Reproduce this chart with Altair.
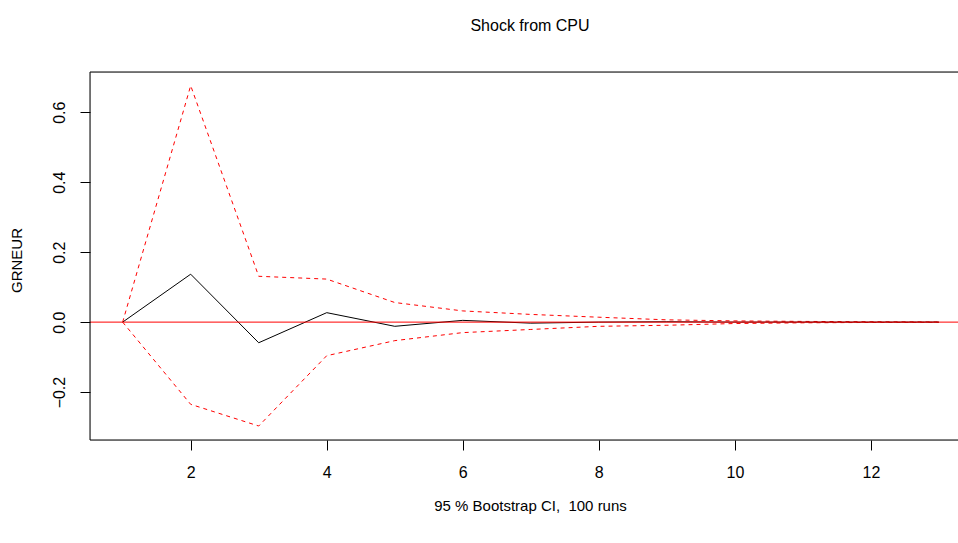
import altair as alt
import pandas as pd

horizon = list(range(1, 14))
irf = [0.0, 0.137, -0.059, 0.027, -0.012, 0.005, -0.003, 0.0, 0.001, 0.0, 0.0, 0.0, 0.0]
upper = [0.0, 0.676, 0.131, 0.123, 0.056, 0.032, 0.022, 0.014, 0.0065, 0.0035, 0.002, 0.001, 0.0005]
lower = [0.0, -0.235, -0.297, -0.096, -0.053, -0.030, -0.021, -0.012, -0.009, -0.004, -0.002, -0.001, -0.0005]

y_ticks = [-0.2, 0.0, 0.2, 0.4, 0.6]
x_ticks = [2, 4, 6, 8, 10, 12]

W, H = 868, 368
FONT = "Liberation Sans"

df_irf = pd.DataFrame({"h": horizon, "v": irf})
df_ci = pd.concat([
    pd.DataFrame({"h": horizon, "v": upper, "band": "upper"}),
    pd.DataFrame({"h": horizon, "v": lower, "band": "lower"}),
])

xscale = alt.Scale(domain=[0.52, 13.28], nice=False, zero=False)
yscale = alt.Scale(domain=[-0.337, 0.715], nice=False, zero=False)

xaxis = alt.Axis(values=x_ticks, format="d", grid=False, domain=False,
                 tickColor="black", tickSize=10, labelPadding=14,
                 labelFont=FONT, labelFontSize=16, labelColor="black",
                 title="95 % Bootstrap CI,\u00a0 100 runs", titleFont=FONT,
                 titleFontSize=15, titleFontWeight="normal", titleColor="black",
                 titlePadding=18, titleX=440)
yaxis = alt.Axis(values=y_ticks, format=".1f", grid=False, domain=False,
                 tickColor="black", tickSize=10, labelPadding=13,
                 labelAngle=-90, labelAlign="center", labelBaseline="bottom",
                 labelFont=FONT, labelFontSize=16, labelColor="black",
                 title="GRNEUR", titleFont=FONT, titleFontSize=15,
                 titleFontWeight="normal", titleColor="black", titlePadding=27,
                 titleY=188)

ci = alt.Chart(df_ci).mark_line(color="red", strokeWidth=1, strokeDash=[4, 4]).encode(
    x=alt.X("h:Q", scale=xscale, axis=xaxis),
    y=alt.Y("v:Q", scale=yscale, axis=yaxis),
    detail="band:N",
)
line = alt.Chart(df_irf).mark_line(color="black", strokeWidth=1).encode(
    x=alt.X("h:Q", scale=xscale),
    y=alt.Y("v:Q", scale=yscale),
)
zero = alt.Chart(pd.DataFrame({"z": [0.0]})).mark_rule(color="red", strokeWidth=1).encode(
    y=alt.Y("z:Q", scale=yscale),
)
one = pd.DataFrame({"a": [0]})
top = alt.Chart(one).mark_rule(color="black", strokeWidth=1).encode(
    x=alt.value(0), x2=alt.value(W), y=alt.value(0))
bottom = alt.Chart(one).mark_rule(color="black", strokeWidth=1).encode(
    x=alt.value(0), x2=alt.value(W), y=alt.value(H))
left = alt.Chart(one).mark_rule(color="black", strokeWidth=1).encode(
    x=alt.value(0), y=alt.value(0), y2=alt.value(H))

chart = alt.layer(ci, line, zero, top, bottom, left).properties(
    width=W, height=H,
    autosize=alt.AutoSizeParams(type="none"),
    padding={"left": 90, "top": 72, "right": 0, "bottom": 103},
    title=alt.TitleParams("Shock from CPU", font=FONT, fontSize=16,
                          fontWeight="normal", color="black", anchor="middle",
                          dx=6, offset=38),
).configure_view(stroke=None).configure(background="white")

chart.save("out.html", embed_options={"renderer": "svg", "actions": False})
